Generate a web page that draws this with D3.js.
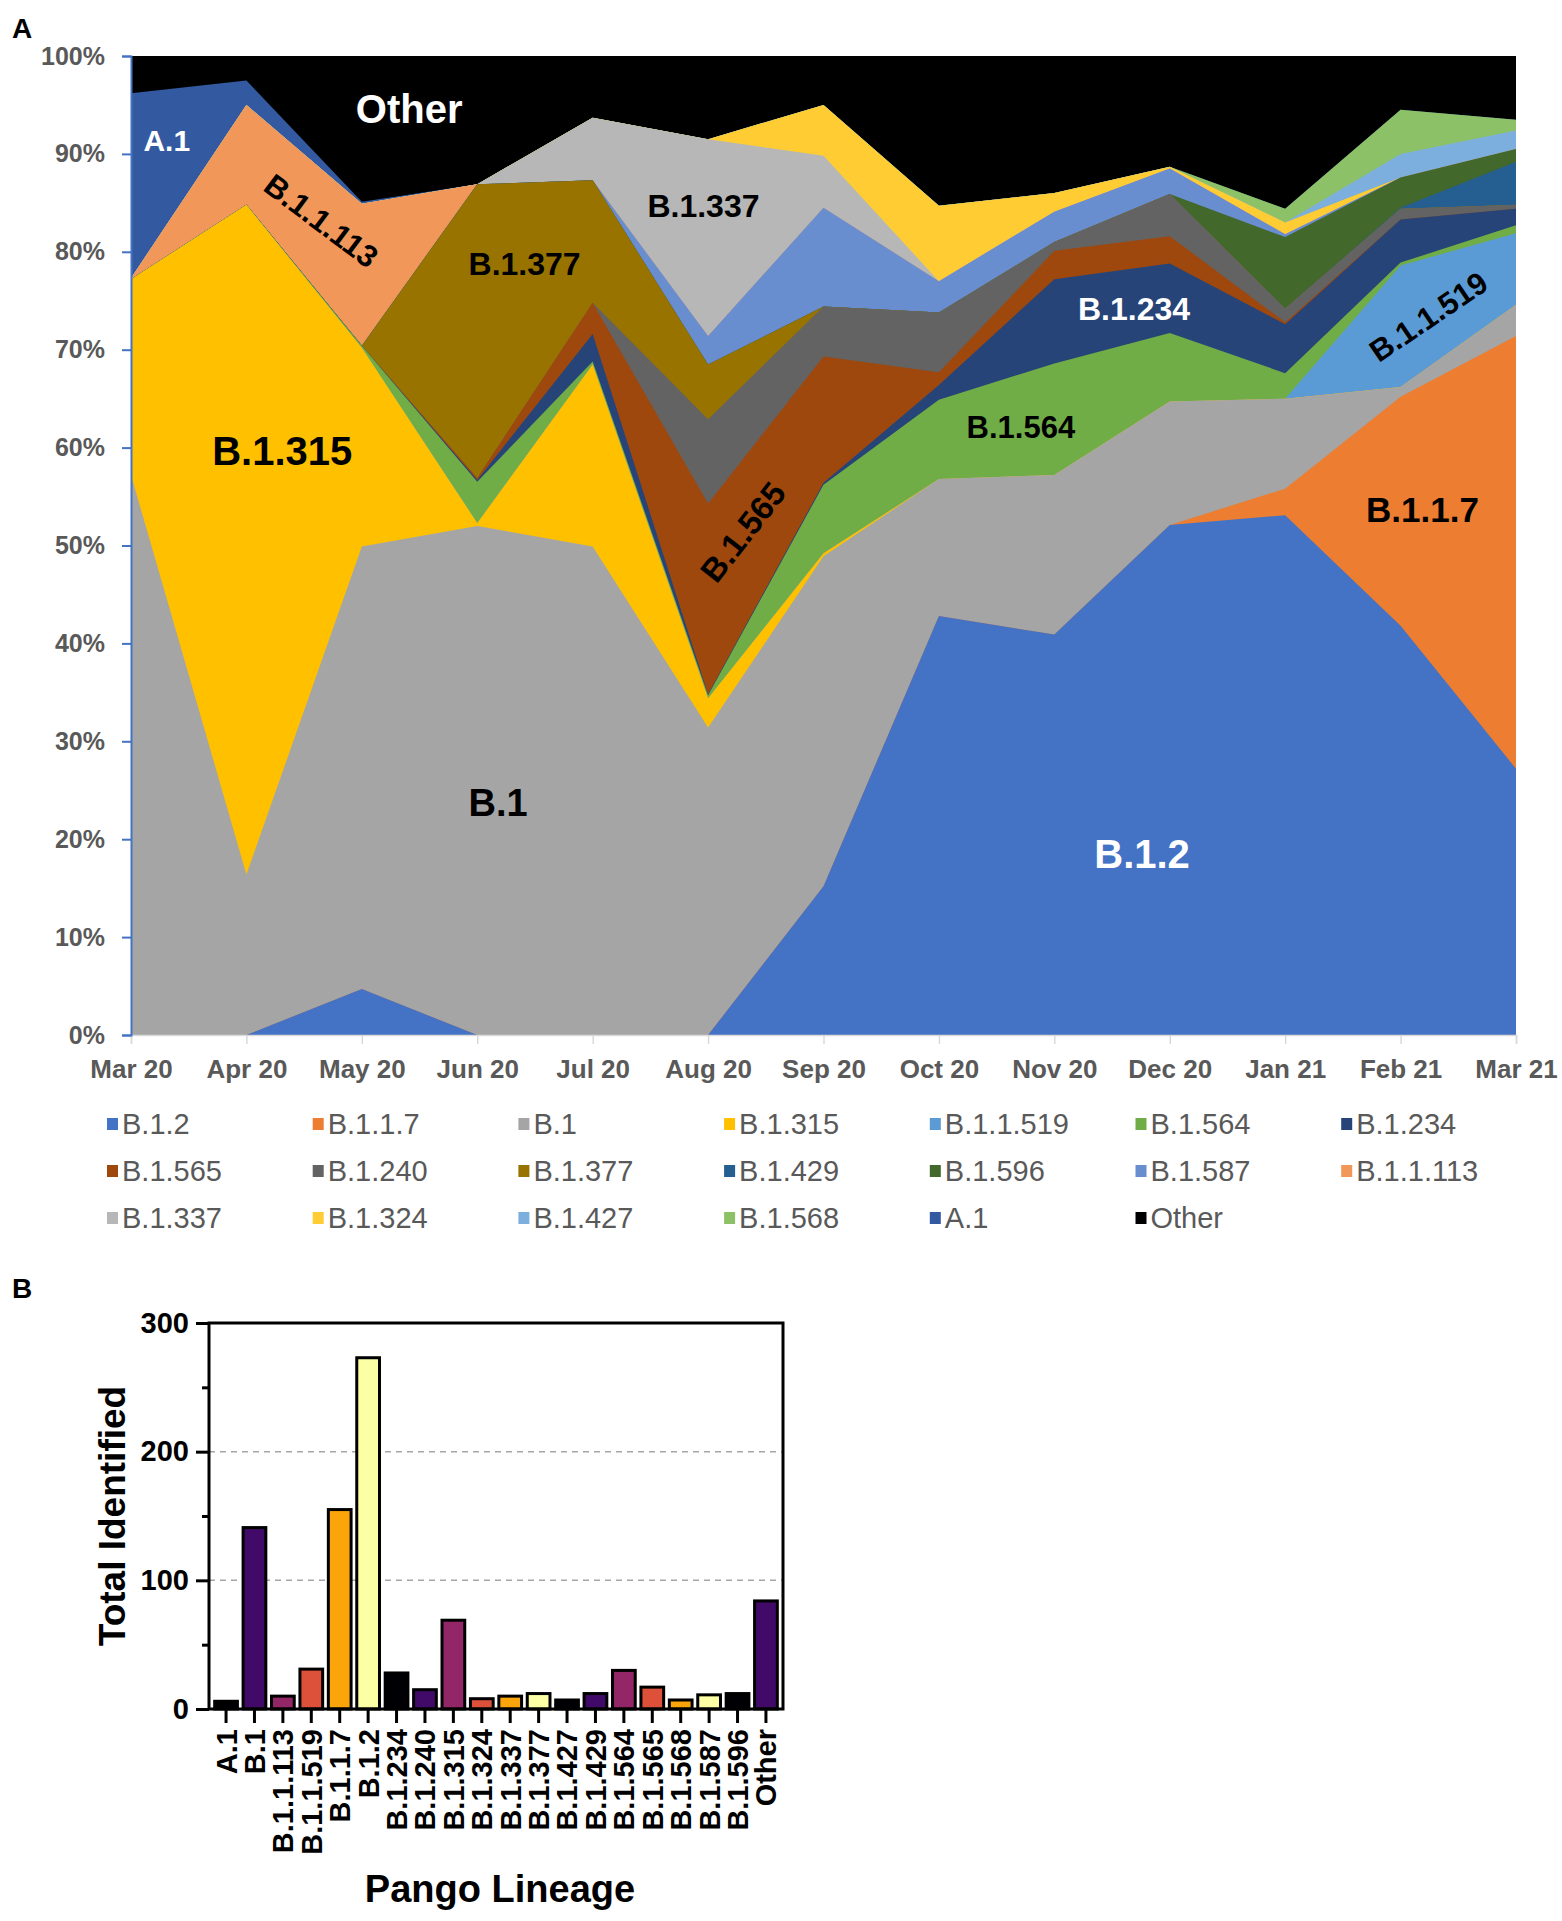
<!DOCTYPE html>
<html>
<head>
<meta charset="utf-8">
<script src="https://cdn.jsdelivr.net/npm/d3@7/dist/d3.min.js"></script>
<style>
	html, body { margin: 0; padding: 0; background: #fff; }
	svg { display: block; font-family: "Liberation Sans", Arial, sans-serif; }
</style>
</head>
<body>
<svg id="chart" width="1562" height="1921"></svg>
<script>
'use strict';

// ---- panel A data: monthly share of each lineage (%) ----
var months = ['Mar 20', 'Apr 20', 'May 20', 'Jun 20', 'Jul 20', 'Aug 20', 'Sep 20',
	'Oct 20', 'Nov 20', 'Dec 20', 'Jan 21', 'Feb 21', 'Mar 21'];

// stacking order, bottom to top (also the legend order)
var lineages = ['B.1.2', 'B.1.1.7', 'B.1', 'B.1.315', 'B.1.1.519', 'B.1.564', 'B.1.234',
	'B.1.565', 'B.1.240', 'B.1.377', 'B.1.429', 'B.1.596', 'B.1.587', 'B.1.1.113',
	'B.1.337', 'B.1.324', 'B.1.427', 'B.1.568', 'A.1', 'Other'];

var b12     = [0, 0, 4.7, 0, 0, 0, 15.2, 42.8, 40.9, 52.1, 53.1, 41.8, 27.2];
var b117    = [0, 0, 0, 0, 0, 0, 0, 0, 0, 0, 2.7, 23.4, 44.2];
var b1      = [57.2, 16.4, 45.2, 52.0, 49.9, 31.4, 33.7, 14.0, 16.3, 12.6, 9.2, 1.0, 3.2];
var b1315   = [20.0, 68.4, 20.3, 0.3, 18.6, 3.0, 0.3, 0, 0, 0, 0, 0, 0];
var b11519  = [0, 0, 0, 0, 0, 0, 0, 0, 0, 0, 0, 12.4, 7.3];
var b1564   = [0, 0, 0.2, 4.2, 0.3, 0.3, 7.0, 8.1, 11.4, 7.0, 2.6, 0.3, 0.8];
var b1234   = [0, 0, 0, 0.2, 2.8, 0.1, 0.2, 1.5, 8.6, 7.1, 5.0, 4.4, 1.7];
var b1565   = [0, 0, 0, 0.2, 3.2, 19.5, 12.9, 1.3, 2.9, 2.8, 0.2, 0, 0];
var b1240   = [0, 0, 0, 0, 0, 8.6, 5.1, 6.1, 0.9, 4.3, 1.4, 1.1, 0.4];
var b1377   = [0, 0, 0, 30.0, 12.5, 5.6, 0, 0, 0, 0, 0, 0, 0];
var b1429   = [0, 0, 0, 0, 0, 0, 0, 0, 0, 0, 0, 0.1, 4.4];
var b1596   = [0, 0, 0, 0, 0, 0, 0, 0, 0, 0, 7.3, 3.1, 1.3];
var b1587   = [0, 0, 0, 0, 0, 2.9, 10.1, 3.2, 3.1, 2.6, 0.3, 0, 0];
var b11113  = [0.1, 10.2, 14.5, 0, 0, 0, 0, 0, 0, 0, 0, 0, 0];
var b1337   = [0, 0, 0, 0, 6.4, 20.1, 5.3, 0, 0, 0, 0, 0, 0];
var b1324   = [0, 0, 0, 0, 0, 0, 5.2, 7.7, 1.9, 0.2, 1.2, 0, 0];
var b1427   = [0, 0, 0, 0, 0, 0, 0, 0, 0, 0, 0, 2.4, 1.9];
var b1568   = [0, 0, 0, 0, 0, 0, 0, 0, 0, 0, 1.4, 4.5, 1.1];
var a1      = [18.9, 2.5, 0.2, 0, 0, 0, 0, 0, 0, 0, 0, 0, 0];
var other   = [3.8, 2.5, 14.9, 13.1, 6.3, 8.5, 5.0, 15.3, 14.0, 11.3, 15.6, 5.5, 6.5];

var pctTicks = [0, 10, 20, 30, 40, 50, 60, 70, 80, 90, 100];

// ---- panel B data: total sequences per lineage ----
var barLineages = ['A.1', 'B.1', 'B.1.1.113', 'B.1.1.519', 'B.1.1.7', 'B.1.2', 'B.1.234',
	'B.1.240', 'B.1.315', 'B.1.324', 'B.1.337', 'B.1.377', 'B.1.427', 'B.1.429',
	'B.1.564', 'B.1.565', 'B.1.568', 'B.1.587', 'B.1.596', 'Other'];
var barTotals = [6, 141, 10, 31, 155, 273, 28, 15, 69, 8, 10, 12, 7, 12, 30, 17, 7, 11, 12, 84];
var countTicks = [0, 100, 200, 300];

// ---- styles ----
var lineageColors = ['#4472C4', '#ED7D31', '#A5A5A5', '#FFC000', '#5B9BD5', '#70AD47', '#264478',
	'#9E480E', '#636363', '#997300', '#255E91', '#43682B', '#698ED0', '#F1975A',
	'#B7B7B7', '#FFCD33', '#7CAFDD', '#8CC168', '#335AA1', '#000000'];
var barColors = d3.quantize(d3.interpolateInferno, 6);
var axisGrey = '#595959';

var svg = d3.select('#chart');

/**
 * panel A: stacked area of monthly lineage share
 */
var drawAreas = function(){

	var shares = [b12, b117, b1, b1315, b11519, b1564, b1234, b1565, b1240, b1377,
		b1429, b1596, b1587, b11113, b1337, b1324, b1427, b1568, a1, other];

	var table = months.map(function(m, i){
		var row = {month: m};
		lineages.forEach(function(k, j){ row[k] = shares[j][i]; });
		return row;
	});

	var x = d3.scalePoint().domain(months).range([131, 1516]);
	var y = d3.scaleLinear().domain([0, 100]).range([1035, 56]);
	var color = d3.scaleOrdinal().domain(lineages).range(lineageColors);

	var series = d3.stack().keys(lineages)(table);

	// every layer painted from 0 up to its cumulative top, top layer first: no seams
	var area = d3.area()
		.x(function(d){ return x(d.data.month); })
		.y0(y(0))
		.y1(function(d){ return y(Math.min(d[1], 100)); });

	svg.append('g')
		.selectAll('path')
		.data(series.slice().reverse())
		.enter()
		.append('path')
		.attr('d', area)
		.attr('fill', function(d){ return color(d.key); });

	// x axis
	var gx = svg.append('g')
		.attr('transform', 'translate(0,' + y(0) + ')')
		.call(d3.axisBottom(x).tickSize(9).tickPadding(16));
	gx.select('.domain').attr('stroke', '#D9D9D9').attr('stroke-width', 1.5);
	gx.selectAll('.tick line').attr('stroke', '#D9D9D9').attr('stroke-width', 1.5);
	gx.selectAll('.tick text')
		.attr('fill', axisGrey)
		.style('font-size', '26px')
		.style('font-weight', 'bold');

	// y axis
	var gy = svg.append('g')
		.attr('transform', 'translate(' + x(months[0]) + ',0)')
		.call(d3.axisLeft(y).tickValues(pctTicks).tickSize(9).tickPadding(17)
			.tickFormat(function(d){ return d + '%'; }));
	gy.select('.domain').attr('stroke', '#4472C4').attr('stroke-width', 2);
	gy.selectAll('.tick line').attr('stroke', '#4472C4').attr('stroke-width', 2);
	gy.selectAll('.tick text')
		.attr('fill', axisGrey)
		.style('font-size', '25px')
		.style('font-weight', 'bold');

	// labels inside the areas, placed by (month index, percent)
	var xl = d3.scaleLinear().domain([0, months.length - 1]).range(x.range());
	var notes = [
		{t: 'Other',     m: 2.41,  p: 94.6, s: 40, c: '#fff', r: 0},
		{t: 'A.1',       m: 0.31,  p: 91.4, s: 30, c: '#fff', r: 0},
		{t: 'B.1.1.113', m: 1.65,  p: 83.2, s: 31, c: '#000', r: 37},
		{t: 'B.1.377',   m: 3.41,  p: 78.8, s: 32, c: '#000', r: 0},
		{t: 'B.1.337',   m: 4.96,  p: 84.7, s: 32, c: '#000', r: 0},
		{t: 'B.1.315',   m: 1.31,  p: 59.7, s: 40, c: '#000', r: 0},
		{t: 'B.1.565',   m: 5.30,  p: 51.4, s: 33, c: '#000', r: -52},
		{t: 'B.1.564',   m: 7.71,  p: 62.1, s: 31, c: '#000', r: 0},
		{t: 'B.1.234',   m: 8.69,  p: 74.2, s: 32, c: '#fff', r: 0},
		{t: 'B.1.1.519', m: 11.24, p: 73.4, s: 31, c: '#000', r: -34},
		{t: 'B.1.1.7',   m: 11.19, p: 53.7, s: 35, c: '#000', r: 0},
		{t: 'B.1',       m: 3.18,  p: 23.8, s: 38, c: '#000', r: 0},
		{t: 'B.1.2',     m: 8.76,  p: 18.5, s: 40, c: '#fff', r: 0}
	];
	svg.append('g')
		.selectAll('text')
		.data(notes)
		.enter()
		.append('text')
		.attr('transform', function(d){
			return 'translate(' + xl(d.m) + ',' + y(d.p) + ') rotate(' + d.r + ')';
		})
		.attr('text-anchor', 'middle')
		.attr('dy', '0.36em')
		.attr('fill', function(d){ return d.c; })
		.style('font-size', function(d){ return d.s + 'px'; })
		.style('font-weight', 'bold')
		.text(function(d){ return d.t; });

	// legend, 7 per row
	var legend = svg.append('g')
		.selectAll('g')
		.data(lineages)
		.enter()
		.append('g')
		.attr('transform', function(d, i){
			return 'translate(' + (107 + (i % 7) * 205.7) + ',' + (1124 + Math.floor(i / 7) * 47) + ')';
		});
	legend.append('rect')
		.attr('x', 0).attr('y', -6)
		.attr('width', 11).attr('height', 12)
		.attr('fill', function(d){ return color(d); });
	legend.append('text')
		.attr('x', 15)
		.attr('dy', '0.36em')
		.attr('fill', axisGrey)
		.style('font-size', '29px')
		.text(function(d){ return d; });

	svg.append('text')
		.attr('x', 12).attr('y', 38)
		.style('font-size', '28px').style('font-weight', 'bold')
		.text('A');
};

/**
 * panel B: total identified per lineage
 */
var drawBars = function(){

	var left = 209, right = 783, top = 1323, bottom = 1709;

	var x = d3.scaleBand().domain(barLineages).range([left, right]).padding(0.2);
	var y = d3.scaleLinear().domain([0, 300]).range([bottom, top]);

	// dashed grid
	svg.append('g')
		.selectAll('line')
		.data([100, 200])
		.enter()
		.append('line')
		.attr('x1', left).attr('x2', right)
		.attr('y1', function(d){ return y(d); })
		.attr('y2', function(d){ return y(d); })
		.attr('stroke', '#a6a6a6')
		.attr('stroke-width', 1.5)
		.attr('stroke-dasharray', '6,5');

	// bars
	svg.append('g')
		.selectAll('rect')
		.data(barTotals)
		.enter()
		.append('rect')
		.attr('x', function(d, i){ return x(barLineages[i]); })
		.attr('y', function(d){ return y(d); })
		.attr('width', x.bandwidth())
		.attr('height', function(d){ return y(0) - y(d); })
		.attr('fill', function(d, i){ return barColors[i % barColors.length]; })
		.attr('stroke', '#000')
		.attr('stroke-width', 3);

	// frame
	svg.append('rect')
		.attr('x', left).attr('y', top)
		.attr('width', right - left).attr('height', bottom - top)
		.attr('fill', 'none')
		.attr('stroke', '#000')
		.attr('stroke-width', 3);

	// y axis: major and minor ticks
	var gy = svg.append('g')
		.attr('transform', 'translate(' + left + ',0)')
		.call(d3.axisLeft(y).tickValues(countTicks).tickSize(13).tickPadding(7));
	gy.select('.domain').remove();
	gy.selectAll('.tick line').attr('stroke', '#000').attr('stroke-width', 3);
	gy.selectAll('.tick text')
		.attr('fill', '#000')
		.style('font-size', '29px')
		.style('font-weight', 'bold');
	var gm = svg.append('g')
		.attr('transform', 'translate(' + left + ',0)')
		.call(d3.axisLeft(y).tickValues([50, 150, 250]).tickSize(7).tickFormat(''));
	gm.select('.domain').remove();
	gm.selectAll('.tick line').attr('stroke', '#000').attr('stroke-width', 3);

	// x axis with rotated labels
	var gx = svg.append('g')
		.attr('transform', 'translate(0,' + bottom + ')')
		.call(d3.axisBottom(x).tickSize(14).tickPadding(0));
	gx.select('.domain').remove();
	gx.selectAll('.tick line').attr('stroke', '#000').attr('stroke-width', 3);
	gx.selectAll('.tick text')
		.attr('transform', 'translate(0,20) rotate(-90)')
		.attr('text-anchor', 'end')
		.attr('x', 0).attr('y', 0)
		.attr('dy', '0.36em')
		.attr('fill', '#000')
		.style('font-size', '29px')
		.style('font-weight', 'bold');

	// titles
	svg.append('text')
		.attr('transform', 'translate(112,1516) rotate(-90)')
		.attr('text-anchor', 'middle')
		.attr('dy', '0.36em')
		.style('font-size', '37px').style('font-weight', 'bold')
		.text('Total Identified');
	svg.append('text')
		.attr('x', 500).attr('y', 1902)
		.attr('text-anchor', 'middle')
		.style('font-size', '38px').style('font-weight', 'bold')
		.text('Pango Lineage');

	svg.append('text')
		.attr('x', 12).attr('y', 1298)
		.style('font-size', '28px').style('font-weight', 'bold')
		.text('B');
};

drawAreas();
drawBars();
</script>
</body>
</html>
